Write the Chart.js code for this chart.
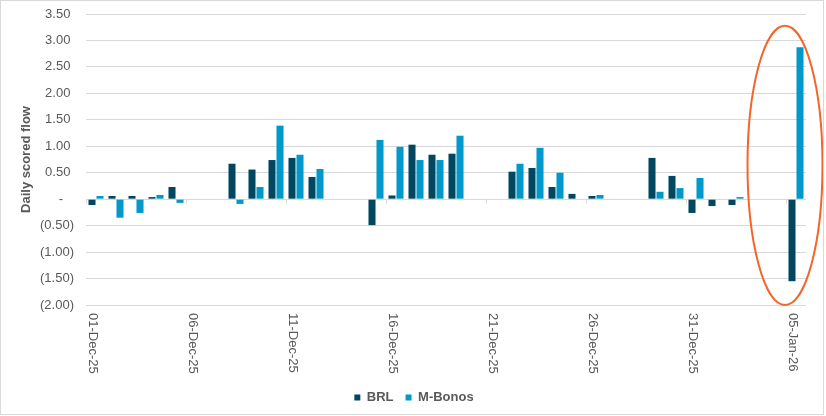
<!DOCTYPE html>
<html><head><meta charset="utf-8">
<script src="https://cdn.jsdelivr.net/npm/chart.js@4.4.1/dist/chart.umd.min.js"></script>
<style>html,body{margin:0;padding:0;background:#fff}</style>
</head><body>
<canvas id="c" width="826" height="416" style="display:block"></canvas>
<script>
const categories = ['01-Dec-25','02-Dec-25','03-Dec-25','04-Dec-25','05-Dec-25','06-Dec-25','07-Dec-25','08-Dec-25','09-Dec-25','10-Dec-25',
  '11-Dec-25','12-Dec-25','13-Dec-25','14-Dec-25','15-Dec-25','16-Dec-25','17-Dec-25','18-Dec-25','19-Dec-25','20-Dec-25',
  '21-Dec-25','22-Dec-25','23-Dec-25','24-Dec-25','25-Dec-25','26-Dec-25','27-Dec-25','28-Dec-25','29-Dec-25','30-Dec-25',
  '31-Dec-25','01-Jan-26','02-Jan-26','03-Jan-26','04-Jan-26','05-Jan-26'];
const brl = [-0.11, 0.06, 0.06, 0.04, 0.23, null, null, 0.67, 0.56, 0.74,
  0.78, 0.42, null, null, -0.49, 0.07, 1.03, 0.84, 0.86, null,
  null, 0.52, 0.59, 0.23, 0.10, 0.06, null, null, 0.78, 0.44,
  -0.26, -0.13, -0.11, null, null, -1.55];
const mbonos = [0.06, -0.35, -0.26, 0.08, -0.07, null, null, -0.09, 0.23, 1.39,
  0.84, 0.57, null, null, 1.12, 0.99, 0.74, 0.74, 1.20, null,
  null, 0.67, 0.97, 0.50, null, 0.08, null, null, 0.14, 0.21,
  0.40, null, 0.04, null, null, 2.87];
const xTickLabels = ['01-Dec-25','06-Dec-25','11-Dec-25','16-Dec-25','21-Dec-25','26-Dec-25','31-Dec-25','05-Jan-26'];
const yTickValues = [3.5, 3, 2.5, 2, 1.5, 1, 0.5, 0, -0.5, -1, -1.5, -2];
const highlightCategory = '05-Jan-26';

const FONT = '"Liberation Sans", Arial, sans-serif';
const GREY = '#595959';

function fmtAcc(v) {
  if (Math.abs(v) < 1e-9) return '-   ';
  if (v < 0) return '(' + Math.abs(v).toFixed(2) + ')';
  return v.toFixed(2) + ' ';
}

const extras = {
  id: 'extras',
  afterLayout(chart) {
    if (chart.legend) { chart.legend.left += 11; chart.legend.right += 11; }
  },
  afterDraw(chart) {
    const ctx = chart.ctx, xs = chart.scales.x, ys = chart.scales.y, ca = chart.chartArea;
    const catW = xs.width / categories.length;
    ctx.save();
    // tick marks on zero line
    const y0 = Math.round(ys.getPixelForValue(0)) + 0.5;
    ctx.strokeStyle = '#d9d9d9'; ctx.lineWidth = 1;
    categories.forEach((c, i) => {
      if (!xTickLabels.includes(c)) return;
      const bx = Math.round(xs.getPixelForValue(i) - catW / 2) + 0.5;
      ctx.beginPath(); ctx.moveTo(bx, y0); ctx.lineTo(bx, y0 + 4); ctx.stroke();
    });
    // rotated x labels
    ctx.font = '13px ' + FONT; ctx.fillStyle = GREY;
    categories.forEach((c, i) => {
      if (!xTickLabels.includes(c)) return;
      const px = xs.getPixelForValue(i) - 3;
      ctx.save(); ctx.translate(px, ca.bottom + 8); ctx.rotate(Math.PI / 2);
      ctx.textAlign = 'left'; ctx.textBaseline = 'middle'; ctx.fillText(c, 0, 0);
      ctx.restore();
    });
    // highlight ellipse
    const hi = categories.indexOf(highlightCategory);
    const cx = xs.getPixelForValue(hi) - 0.55 * catW;
    const rx = 1.875 * catW;
    const yt = ys.getPixelForValue(3.28), yb = ys.getPixelForValue(-2.0);
    ctx.beginPath();
    ctx.ellipse(cx, (yt + yb) / 2, rx, (yb - yt) / 2, 0, 0, Math.PI * 2);
    ctx.strokeStyle = '#F4652A'; ctx.lineWidth = 2; ctx.stroke();
    // chart border
    ctx.strokeStyle = '#d9d9d9'; ctx.lineWidth = 1;
    ctx.strokeRect(0.5, 0.5, 823, 414);
    ctx.restore();
  }
};

new Chart(document.getElementById('c'), {
  type: 'bar',
  data: {
    labels: categories,
    datasets: [
      { label: 'BRL', data: brl, backgroundColor: '#00475F', categoryPercentage: 0.8, barPercentage: 0.88 },
      { label: 'M-Bonos', data: mbonos, backgroundColor: '#0099C9', categoryPercentage: 0.8, barPercentage: 0.88 }
    ]
  },
  options: {
    responsive: false,
    animation: false,
    devicePixelRatio: 1,
    layout: { padding: { left: 0, right: 20, top: 14, bottom: 2 } },
    plugins: {
      legend: {
        position: 'bottom',
        labels: { boxWidth: 6, boxHeight: 6, padding: 12, color: GREY, font: { family: FONT, size: 13, weight: 'bold' } }
      },
      tooltip: { enabled: false }
    },
    scales: {
      x: {
        ticks: { display: false },
        grid: { display: false },
        border: { display: false },
        afterFit(s) { s.height = 74; }
      },
      y: {
        min: -2, max: 3.5,
        afterBuildTicks(s) { s.ticks = yTickValues.map(v => ({ value: v })); },
        ticks: { padding: 12, color: GREY, font: { family: FONT, size: 13 }, callback: v => fmtAcc(v) },
        grid: { color: '#d9d9d9', drawTicks: false },
        border: { display: false },
        title: { display: true, text: 'Daily scored flow', color: GREY, font: { family: FONT, size: 13, weight: 'bold' }, padding: { top: 19, bottom: 0 } },
        afterFit(s) { s.width = 86; s.paddingTop = 0; s.paddingBottom = 0; }
      }
    }
  },
  plugins: [extras]
});
</script>
</body></html>
